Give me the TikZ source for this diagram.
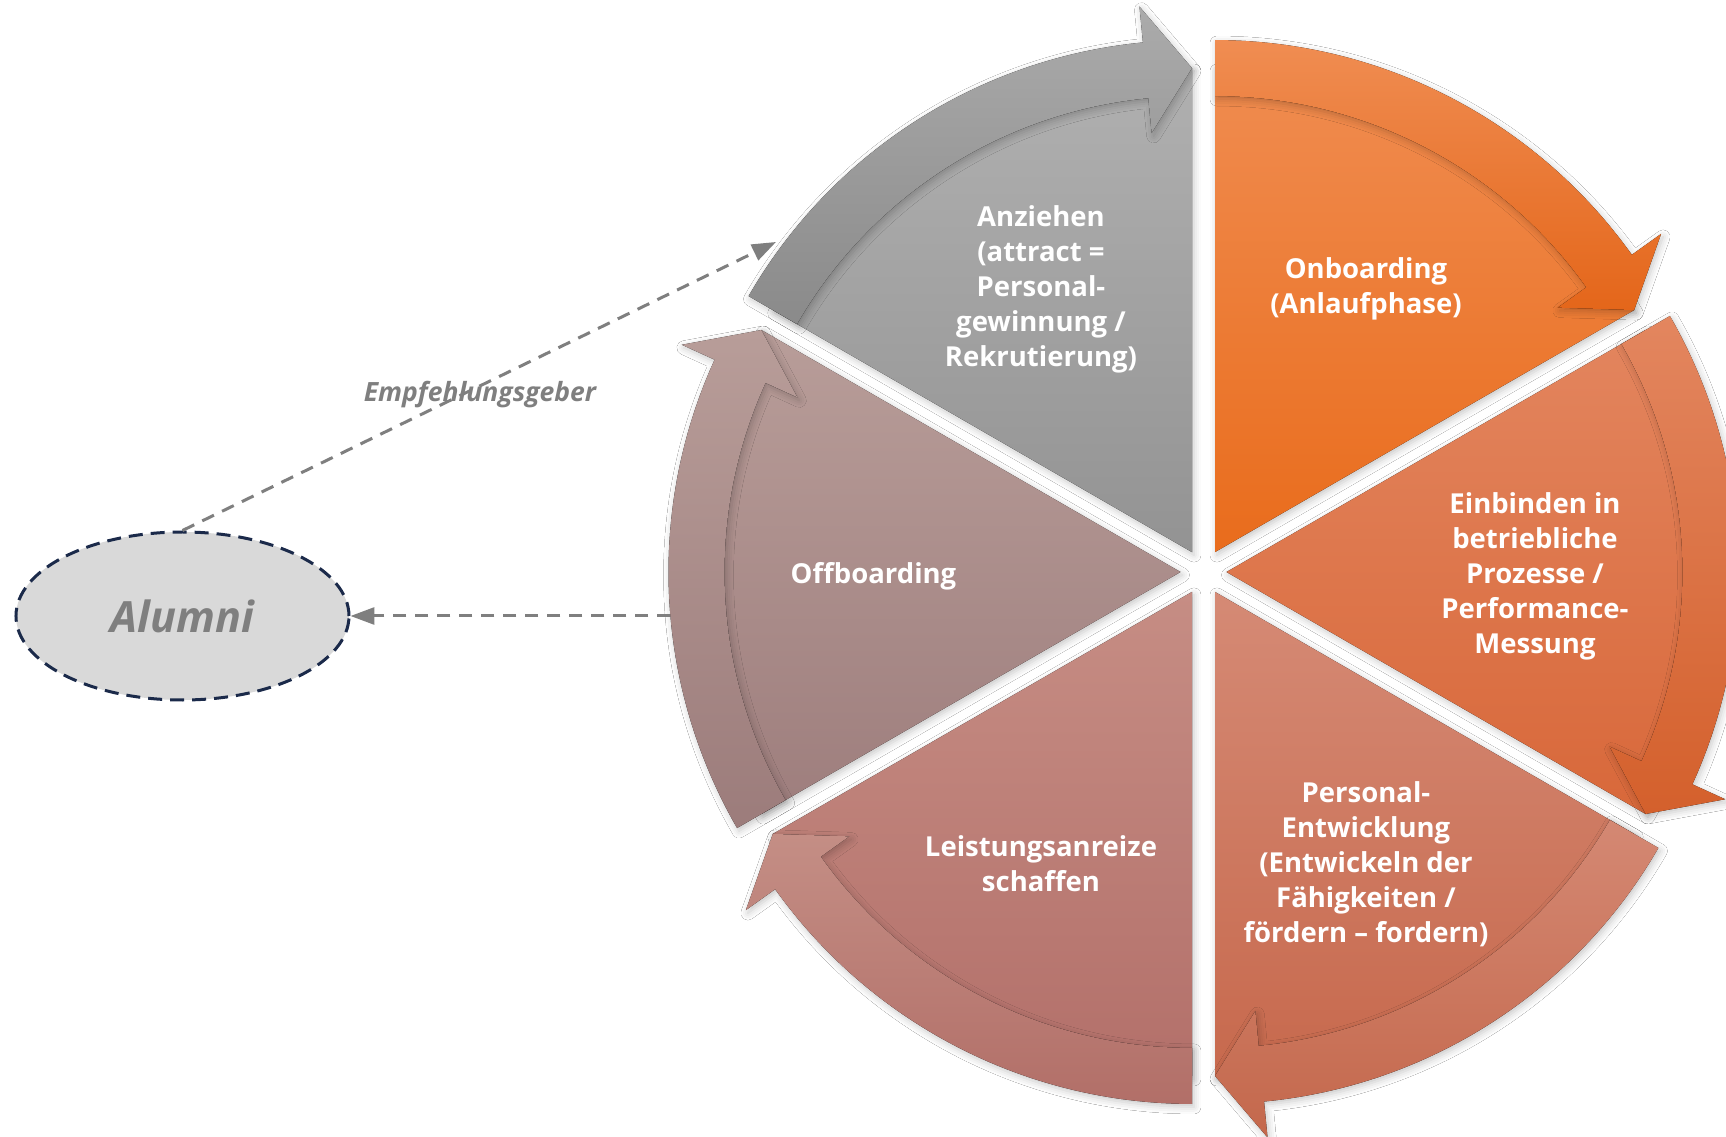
\documentclass[tikz,border=0pt]{standalone}
\usepackage{fontspec}
\setmainfont{Open Sans}
\usetikzlibrary{arrows.meta,shapes.geometric,shadows.blur}

\definecolor{gPieT}{HTML}{B0B0B0}\definecolor{gPieB}{HTML}{939393}
\definecolor{gBandT}{HTML}{ABABAB}\definecolor{gBandB}{HTML}{8A8A8A}
\definecolor{oPieT}{HTML}{F08C50}\definecolor{oPieB}{HTML}{E96C1C}
\definecolor{oBandT}{HTML}{F08D52}\definecolor{oBandB}{HTML}{E4661A}
\definecolor{ePieT}{HTML}{E3855E}\definecolor{ePieB}{HTML}{D8683A}
\definecolor{eBandT}{HTML}{E3865F}\definecolor{eBandB}{HTML}{D4602C}
\definecolor{pPieT}{HTML}{D58A75}\definecolor{pPieB}{HTML}{C7694D}
\definecolor{pBandT}{HTML}{D48873}\definecolor{pBandB}{HTML}{C4684C}
\definecolor{lPieT}{HTML}{C68D84}\definecolor{lPieB}{HTML}{B3706A}
\definecolor{lBandT}{HTML}{C48E85}\definecolor{lBandB}{HTML}{B26F68}
\definecolor{fPieT}{HTML}{B89D99}\definecolor{fPieB}{HTML}{9E7E7D}
\definecolor{fBandT}{HTML}{B89D99}\definecolor{fBandB}{HTML}{9C7C7B}
\definecolor{connGray}{HTML}{7F7F7F}
\definecolor{alumniFill}{HTML}{D9D9D9}
\definecolor{alumniLine}{HTML}{1B2A4A}

\tikzset{
  lbl/.style={text=white, font=\bfseries\fontsize{27.5}{35}\selectfont, align=center, inner sep=0pt},
  dashconn/.style={draw=connGray, line width=3pt, dash pattern=on 13pt off 9pt,
    -{Triangle[length=24pt,width=17pt]}},
  softshadow/.style={blur shadow={shadow xshift=2pt, shadow yshift=-3pt, shadow blur radius=7pt, shadow opacity=22}},
}

% #1 ccw edge angle, #2/#3 pie colours, #4/#5 band colours
\newcommand\cyclesegment[5]{%
  \pgfmathsetmacro\sgEnd{#1-60}%
  \pgfmathsetmacro\sgBis{#1-30}%
  \pgfmathsetmacro\sgHead{#1-60+5.5}%
  \begin{scope}[shift={(\sgBis:23)}]
    \fill[top color=#2, bottom color=#3, softshadow]
      (0,0) -- (\sgEnd:484) arc[start angle=\sgEnd, end angle=#1, radius=484] -- cycle;
    \fill[top color=#4, bottom color=#5, softshadow]
      (#1:512) arc[start angle=#1, end angle=\sgHead, radius=512]
      -- (\sgHead:548) -- (\sgEnd:484) -- (\sgHead:421) -- (\sgHead:456)
      arc[start angle=\sgHead, end angle=#1, radius=456] -- cycle;
  \end{scope}%
}

\begin{document}
\begin{tikzpicture}[x=1pt,y=1pt]
  \clip (-1203.5,-565) rectangle (522.5,572);
  \fill[white] (-1203.5,-565) rectangle (522.5,572);

  \cyclesegment{150}{gPieT}{gPieB}{gBandT}{gBandB}
  \cyclesegment{90}{oPieT}{oPieB}{oBandT}{oBandB}
  \cyclesegment{30}{ePieT}{ePieB}{eBandT}{eBandB}
  \cyclesegment{-30}{pPieT}{pPieB}{pBandT}{pBandB}
  \cyclesegment{-90}{lPieT}{lPieB}{lBandT}{lBandB}
  \cyclesegment{210}{fPieT}{fPieB}{fBandT}{fBandB}

  \node[lbl] (anziehen) at (-162.5,283) {Anziehen\\(attract =\\Personal-\\gewinnung /\\Rekrutierung)};
  \node[lbl] (onboarding) at (162.5,283) {Onboarding\\(Anlaufphase)};
  \node[lbl] (einbinden) at (331.5,-4) {Einbinden in\\betriebliche\\Prozesse /\\Performance-\\Messung};
  \node[lbl] (entwicklung) at (162.5,-292) {Personal-\\Entwicklung\\(Entwickeln der\\Fähigkeiten /\\fördern – fordern)};
  \node[lbl] (anreize) at (-162.5,-292) {Leistungsanreize\\schaffen};
  \node[lbl] (offboarding) at (-330,-4) {Offboarding};

  \node[ellipse, draw=alumniLine, fill=alumniFill, line width=3pt,
        dash pattern=on 14pt off 8pt, minimum width=333pt, minimum height=168pt,
        text=connGray, font=\bfseries\itshape\fontsize{43}{52}\selectfont]
        (alumni) at (-1021,-44) {Alumni};

  \coordinate (offout) at (-533,-44);
  \coordinate (rectip) at (-427.5,330);
  \draw[dashconn] (offout) -- (alumni.east);
  \draw[dashconn] (alumni.north) -- (rectip);

  \node[text=connGray, font=\bfseries\itshape\fontsize{26.5}{31}\selectfont]
        (empf) at (-723.5,177) {Empfehlungsgeber};
\end{tikzpicture}
\end{document}
